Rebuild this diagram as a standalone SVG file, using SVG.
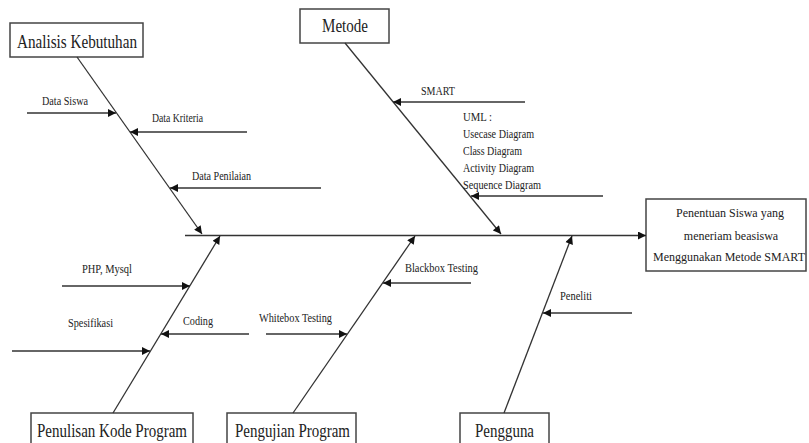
<svg xmlns="http://www.w3.org/2000/svg" width="809" height="443" viewBox="0 0 809 443">
<defs>
<marker id="ah" viewBox="0 0 10 10" refX="10" refY="5" markerWidth="9" markerHeight="8" markerUnits="userSpaceOnUse" orient="auto"><path d="M0,0 L10,5 L0,10 z" fill="#111"/></marker>
<style>
.box{fill:#fff;stroke:#444;stroke-width:1.5}
.ln{stroke:#333;stroke-width:1.3;fill:none;marker-end:url(#ah)}
text{font-family:"Liberation Serif","Times New Roman",serif;fill:#222}
.big{font-size:19px}
.mid{font-size:12px;text-anchor:middle}
.sm{font-size:12px}
</style>
</defs>
<rect width="809" height="443" fill="#fff"/>
<g id="analisis"><rect class="box" x="10" y="23" width="133" height="34"/><text class="big" x="17" y="48" textLength="120" lengthAdjust="spacingAndGlyphs">Analisis Kebutuhan</text></g>
<g id="metode"><rect class="box" x="300" y="9" width="89" height="34"/><text class="big" x="322" y="32" textLength="46" lengthAdjust="spacingAndGlyphs">Metode</text></g>
<g id="hasil"><rect class="box" x="646" y="199" width="160" height="72"/>
<text class="mid" x="730" y="217">Penentuan Siswa yang</text>
<text class="mid" x="731" y="240">meneriam beasiswa</text>
<text class="mid" x="729" y="261">Menggunakan Metode SMART</text></g>
<g id="penulisan"><rect class="box" x="31" y="413" width="162" height="40"/><text class="big" x="37" y="437" textLength="150" lengthAdjust="spacingAndGlyphs">Penulisan Kode Program</text></g>
<g id="pengujian"><rect class="box" x="227" y="413" width="129" height="40"/><text class="big" x="235" y="437" textLength="115" lengthAdjust="spacingAndGlyphs">Pengujian Program</text></g>
<g id="pengguna"><rect class="box" x="460" y="413" width="89" height="40"/><text class="big" x="475" y="437" textLength="59" lengthAdjust="spacingAndGlyphs">Pengguna</text></g>
<g id="connectors">
<line class="ln" x1="185" y1="235.5" x2="646" y2="235.5"/>
<line class="ln" x1="77" y1="57" x2="202" y2="234"/>
<line class="ln" x1="345" y1="43" x2="501" y2="234"/>
<line class="ln" x1="113" y1="413" x2="220" y2="236"/>
<line class="ln" x1="293" y1="413" x2="415" y2="236"/>
<line class="ln" x1="504" y1="413" x2="572" y2="236"/>
<line class="ln" x1="27" y1="113" x2="116" y2="113"/>
<line class="ln" x1="247" y1="132" x2="130" y2="132"/>
<line class="ln" x1="321" y1="188" x2="170" y2="188"/>
<line class="ln" x1="525" y1="102" x2="393" y2="102"/>
<line class="ln" x1="603" y1="196" x2="471" y2="196"/>
<line class="ln" x1="62" y1="286" x2="190" y2="286"/>
<line class="ln" x1="12" y1="351" x2="150" y2="351"/>
<line class="ln" x1="249" y1="334" x2="161" y2="334"/>
<line class="ln" x1="266" y1="334" x2="347" y2="334"/>
<line class="ln" x1="471" y1="283" x2="383" y2="283"/>
<line class="ln" x1="632" y1="313" x2="543" y2="313"/>
</g>
<g id="labels" class="sm">
<text class="sm" x="42" y="105" textLength="46" lengthAdjust="spacingAndGlyphs">Data Siswa</text>
<text class="sm" x="152" y="122" textLength="51" lengthAdjust="spacingAndGlyphs">Data Kriteria</text>
<text class="sm" x="192" y="180" textLength="59" lengthAdjust="spacingAndGlyphs">Data Penilaian</text>
<text class="sm" x="421" y="95" textLength="34" lengthAdjust="spacingAndGlyphs">SMART</text>
<text class="sm" x="463" y="121" textLength="29" lengthAdjust="spacingAndGlyphs">UML :</text>
<text class="sm" x="463" y="138" textLength="71" lengthAdjust="spacingAndGlyphs">Usecase Diagram</text>
<text class="sm" x="463" y="155" textLength="59" lengthAdjust="spacingAndGlyphs">Class Diagram</text>
<text class="sm" x="463" y="172" textLength="71" lengthAdjust="spacingAndGlyphs">Activity Diagram</text>
<text class="sm" x="463" y="189" textLength="78" lengthAdjust="spacingAndGlyphs">Sequence Diagram</text>
<text class="sm" x="82" y="273" textLength="50" lengthAdjust="spacingAndGlyphs">PHP, Mysql</text>
<text class="sm" x="68" y="327" textLength="45" lengthAdjust="spacingAndGlyphs">Spesifikasi</text>
<text class="sm" x="183" y="325" textLength="30" lengthAdjust="spacingAndGlyphs">Coding</text>
<text class="sm" x="259" y="322" textLength="73" lengthAdjust="spacingAndGlyphs">Whitebox Testing</text>
<text class="sm" x="405" y="272" textLength="73" lengthAdjust="spacingAndGlyphs">Blackbox Testing</text>
<text class="sm" x="560" y="300" textLength="32" lengthAdjust="spacingAndGlyphs">Peneliti</text>
</g>
</svg>
